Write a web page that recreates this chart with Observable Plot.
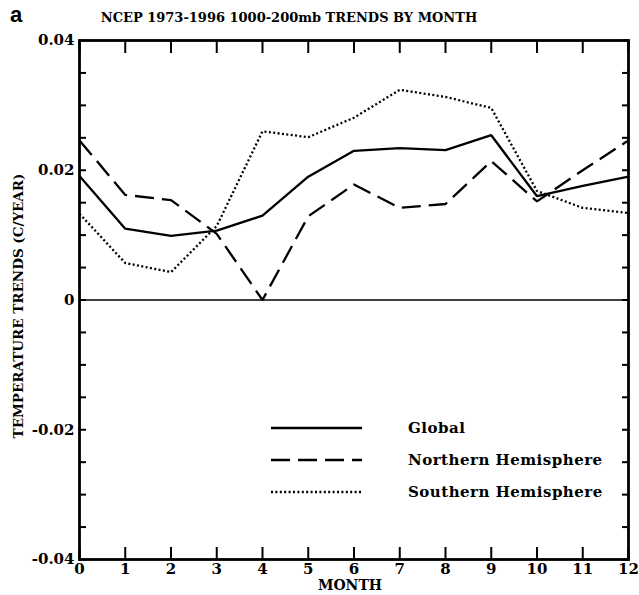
<!DOCTYPE html>
<html><head><meta charset="utf-8">
<script src="https://cdn.jsdelivr.net/npm/d3@7"></script>
<script src="https://cdn.jsdelivr.net/npm/@observablehq/plot@0.6"></script>
<style>body{margin:0;background:#fff}#chart{width:639px;height:595px}</style>
</head><body><div id="chart"></div>
<script>
const months = [0,1,2,3,4,5,6,7,8,9,10,11,12];
const globalTrend = [0.0191,0.0110,0.0099,0.0107,0.0130,0.0190,0.0230,0.0234,0.0231,0.0254,0.0160,0.0176,0.0190];
const northTrend  = [0.0246,0.0162,0.0154,0.0102,0.0000,0.0129,0.0178,0.0142,0.0148,0.0214,0.0152,0.0200,0.0246];
const southTrend  = [0.0133,0.0057,0.0043,0.0114,0.0260,0.0251,0.0281,0.0324,0.0313,0.0296,0.0168,0.0142,0.0134];
const seriesNames = ["Global","Northern Hemisphere","Southern Hemisphere"];
const xTicks = [0,1,2,3,4,5,6,7,8,9,10,11,12];
const yTicks = [-0.04,-0.035,-0.03,-0.025,-0.02,-0.015,-0.01,-0.005,0,0.005,0.01,0.015,0.02,0.025,0.03,0.035,0.04];
const yLabelTicks = [-0.04,-0.02,0,0.02,0.04];
const yTickLabels = ["-0.04","-0.02","0","0.02","0.04"];
const titleText = "NCEP 1973-1996 1000-200mb TRENDS BY MONTH";
const panelLetter = "a";
const xLabel = "MONTH";
const yLabel = "TEMPERATURE TRENDS (C/YEAR)";

const seriesValues = [globalTrend, northTrend, southTrend];
const rows = [];
seriesNames.forEach((name, i) => months.forEach((m, j) => rows.push({series: name, month: m, value: seriesValues[i][j]})));
const dashes = {"Global": null, "Northern Hemisphere": "19,8", "Southern Hemisphere": "2,2.4"};

const FONT = "'DejaVu Serif', serif";
const labelMap = new Map(yLabelTicks.map((v, i) => [v, yTickLabels[i]]));

const plot = Plot.plot({
  width: 639, height: 595,
  marginLeft: 79, marginRight: 11, marginTop: 40, marginBottom: 36,
  style: {fontFamily: FONT, fontSize: "15px", fontWeight: "bold", color: "#000", background: "#fff", overflow: "visible"},
  x: {domain: [0, 12]},
  y: {domain: [-0.04, 0.04]},
  marks: [
    Plot.ruleY([0], {stroke: "#000", strokeWidth: 1.3}),
    ...seriesNames.map(name => Plot.line(rows.filter(d => d.series === name), {
      x: "month", y: "value", stroke: "#000", strokeWidth: 2.3,
      strokeDasharray: dashes[name], strokeLinecap: "butt", strokeLinejoin: "miter"
    })),
    Plot.frame({stroke: "#000", strokeWidth: 2.8}),
    Plot.axisX({anchor: "bottom", ticks: xTicks, tickSize: -12, tickPadding: 16, tickFormat: d => String(d), label: null, strokeWidth: 2}),
    Plot.axisX({anchor: "top", ticks: xTicks, tickSize: -12, tickFormat: () => "", label: null, strokeWidth: 2}),
    Plot.axisY({anchor: "left", ticks: yTicks, tickSize: -7, tickPadding: 12, tickFormat: d => labelMap.get(Math.round(d * 1000) / 1000) ?? "", label: null, strokeWidth: 2}),
    Plot.axisY({anchor: "right", ticks: yTicks, tickSize: -7, tickFormat: () => "", label: null, strokeWidth: 2})
  ]
});
document.getElementById("chart").appendChild(plot);

const svg = d3.select(plot);
const txt = (x, y, s, size, anchor = "middle") => svg.append("text")
  .attr("x", x).attr("y", y).attr("text-anchor", anchor)
  .attr("font-family", FONT).attr("font-weight", "bold").attr("font-size", size).attr("fill", "#000").text(s);

txt(10, 22, panelLetter, 22, "start").attr("font-family", "'Liberation Sans', sans-serif");
txt(289, 22, titleText, 13);
txt(350, 590, xLabel, 14);
txt(0, 0, yLabel, 13.5).attr("transform", "translate(23,306) rotate(-90)");

const legend = svg.append("g");
seriesNames.forEach((name, i) => {
  const y = 428 + i * 32;
  legend.append("line").attr("x1", 271).attr("x2", 362).attr("y1", y).attr("y2", y)
    .attr("stroke", "#000").attr("stroke-width", 2.3).attr("stroke-dasharray", dashes[name]);
  txt(408, y + 5, name, 15, "start").attr("letter-spacing", 0.5);
});
</script></body></html>
